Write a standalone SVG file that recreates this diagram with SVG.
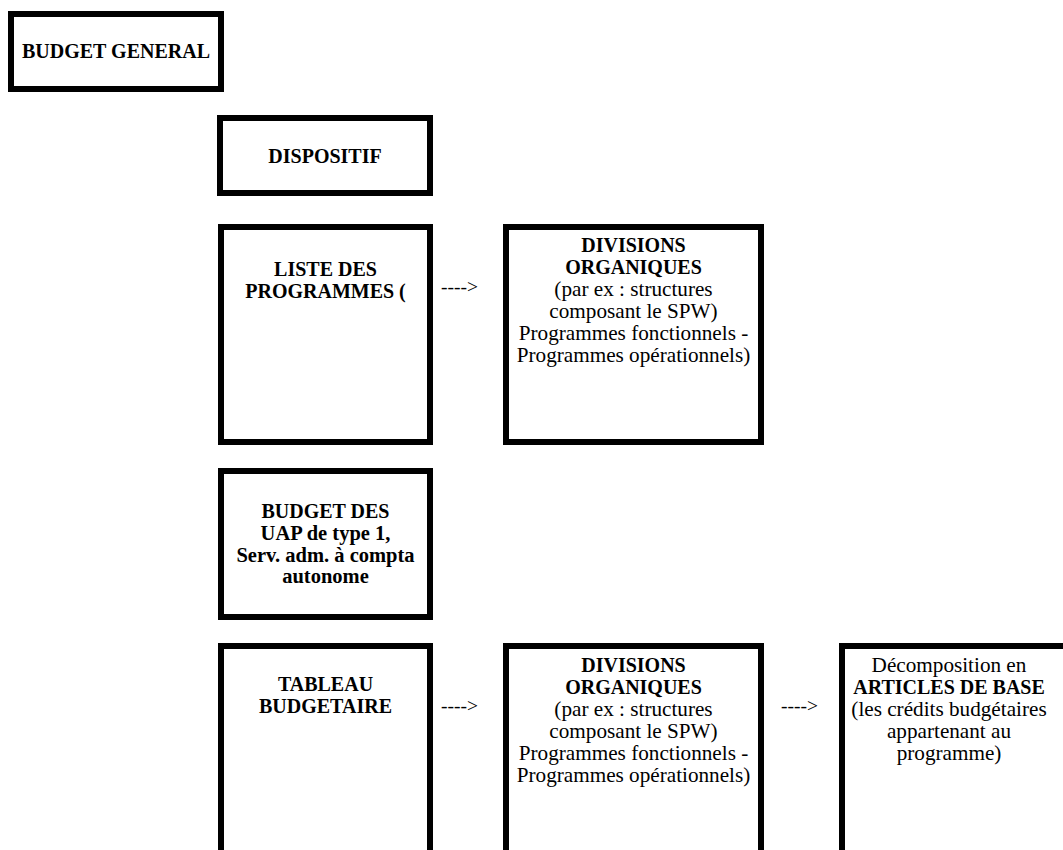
<svg xmlns="http://www.w3.org/2000/svg" width="1063" height="850" viewBox="0 0 1063 850">
<style>
.box{fill:#fff;stroke:#000;stroke-width:6}
text{font-family:"Liberation Serif","Times New Roman",serif;font-size:21.2px;fill:#000;text-anchor:middle}
.b{font-weight:bold;font-size:20px}
.bm{font-weight:bold;font-size:20.5px}
.arr{text-anchor:start;font-size:19.5px}
</style>
<rect width="1063" height="850" fill="#fff"/>
<g id="budget-general">
<rect class="box" x="11" y="14" width="210" height="75"/>
<text class="b" x="116" y="58">BUDGET GENERAL</text>
</g>
<g id="dispositif">
<rect class="box" x="220" y="118" width="210" height="75"/>
<text class="b" x="325" y="163">DISPOSITIF</text>
</g>
<g id="liste-programmes">
<rect class="box" x="221" y="227" width="209" height="215"/>
<text class="b" x="325.5" y="276">LISTE DES</text>
<text class="b" x="325.5" y="298">PROGRAMMES (</text>
</g>
<g id="divisions-1">
<rect class="box" x="506" y="227" width="255" height="215"/>
<text class="b" x="633.5" y="252">DIVISIONS</text>
<text class="b" x="633.5" y="274">ORGANIQUES</text>
<text x="633.5" y="296">(par ex : structures</text>
<text x="633.5" y="318">composant le SPW)</text>
<text x="633.5" y="340">Programmes fonctionnels -</text>
<text x="633.5" y="362">Programmes opérationnels)</text>
</g>
<g id="budget-uap">
<rect class="box" x="221" y="471" width="209" height="146"/>
<text class="b" x="325.5" y="518">BUDGET DES</text>
<text class="bm" x="325.5" y="540">UAP de type 1,</text>
<text class="bm" x="325.5" y="562">Serv. adm. à compta</text>
<text class="bm" x="325.5" y="583">autonome</text>
</g>
<g id="tableau-budgetaire">
<rect class="box" x="221" y="646" width="209" height="250"/>
<text class="b" x="325.5" y="691">TABLEAU</text>
<text class="b" x="325.5" y="713">BUDGETAIRE</text>
</g>
<g id="divisions-2">
<rect class="box" x="506" y="646" width="255" height="250"/>
<text class="b" x="633.5" y="672">DIVISIONS</text>
<text class="b" x="633.5" y="694">ORGANIQUES</text>
<text x="633.5" y="716">(par ex : structures</text>
<text x="633.5" y="738">composant le SPW)</text>
<text x="633.5" y="760">Programmes fonctionnels -</text>
<text x="633.5" y="782">Programmes opérationnels)</text>
</g>
<g id="articles-base">
<rect class="box" x="842" y="646" width="260" height="250"/>
<text x="949" y="672">Décomposition en</text>
<text class="b" x="949" y="694">ARTICLES DE BASE</text>
<text x="949" y="716">(les crédits budgétaires</text>
<text x="949" y="738">appartenant au</text>
<text x="949" y="760">programme)</text>
</g>
<g id="connectors">
<text class="arr" x="441" y="293">----&gt;</text>
<text class="arr" x="441" y="712">----&gt;</text>
<text class="arr" x="781" y="712">----&gt;</text>
</g>
</svg>
